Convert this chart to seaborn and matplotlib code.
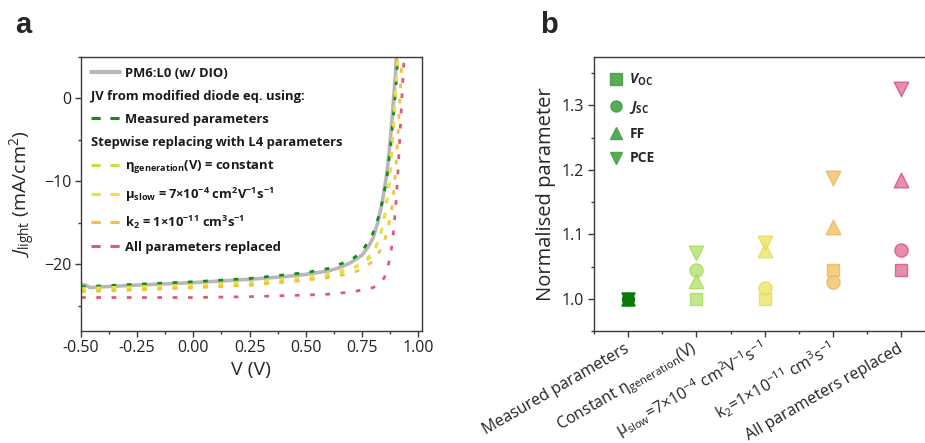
import numpy as np
import pandas as pd
import matplotlib
matplotlib.use("Agg")
import matplotlib.pyplot as plt
import seaborn as sns
from matplotlib.lines import Line2D
from matplotlib.ticker import MultipleLocator, FixedLocator

# ---------------- Panel a data (J-V curves) ----------------
v_pm6 = [-0.50, -0.48, -0.46, -0.40, -0.25, 0.00, 0.25, 0.40, 0.50, 0.60, 0.65, 0.70,
         0.75, 0.78, 0.80, 0.82, 0.84, 0.86, 0.87, 0.88, 0.89, 0.90, 0.905]
j_pm6 = [-22.4, -22.5, -22.8, -22.7, -22.5, -22.2, -21.8, -21.5, -21.2, -20.8, -20.4, -19.8,
         -18.9, -17.8, -16.8, -15.0, -12.6, -9.2, -6.8, -3.8, -0.4, 3.2, 5.5]

v_meas = [-0.50, -0.25, 0.00, 0.25, 0.50, 0.60, 0.70, 0.75, 0.80, 0.83, 0.86, 0.88, 0.90, 0.91]
j_meas = [-22.7, -22.4, -22.1, -21.7, -21.0, -20.5, -19.5, -18.5, -16.2, -13.8, -9.8, -5.2, 1.0, 5.0]

v_eta = [-0.50, -0.25, 0.00, 0.25, 0.50, 0.60, 0.70, 0.75, 0.80, 0.83, 0.85, 0.87, 0.88, 0.89, 0.90, 0.91]
j_eta = [-23.3, -23.1, -22.8, -22.5, -21.9, -21.4, -20.6, -20.0, -18.8, -16.6, -14.2, -10.2, -7.4, -3.8, 0.6, 5.0]

v_mu = [-0.50, -0.25, 0.00, 0.25, 0.50, 0.60, 0.70, 0.75, 0.80, 0.83, 0.85, 0.87, 0.88, 0.89, 0.90, 0.91]
j_mu = [-22.9, -22.7, -22.5, -22.2, -21.6, -21.2, -20.5, -19.9, -18.5, -16.8, -14.6, -10.8, -7.8, -4.0, 0.8, 5.0]

v_k2 = [-0.50, -0.25, 0.00, 0.25, 0.50, 0.60, 0.70, 0.75, 0.80, 0.83, 0.86, 0.88, 0.89, 0.90, 0.91, 0.92, 0.93]
j_k2 = [-23.2, -23.0, -22.8, -22.5, -21.9, -21.6, -21.1, -20.6, -19.6, -18.4, -16.4, -13.8, -11.8, -8.8, -4.6, 0.6, 5.5]

v_all = [-0.50, -0.25, 0.00, 0.25, 0.50, 0.60, 0.70, 0.75, 0.80, 0.83, 0.85, 0.87, 0.88, 0.89, 0.90, 0.91, 0.92, 0.93, 0.94]
j_all = [-24.0, -24.0, -24.0, -23.9, -23.7, -23.6, -23.35, -23.1, -22.8, -22.3, -21.6, -19.8, -18.4, -16.2, -13.2, -9.0, -4.0, 1.2, 6.0]

legend_a_labels = [
    "PM6:L0 (w/ DIO)",
    "JV from modified diode eq. using:",
    "Measured parameters",
    "Stepwise replacing with L4 parameters",
    r"η$_{generation}$(V) = constant",
    r"μ$_{slow}$ = 7×10$^{-4}$ cm$^{2}$V$^{-1}$s$^{-1}$",
    r"k$_{2}$ = 1×10$^{-11}$ cm$^{3}$s$^{-1}$",
    "All parameters replaced",
]

# ---------------- Panel b data (normalised parameters) ----------------
steps = ["Measured parameters",
         r"Constant η$_{generation}$(V)",
         r"μ$_{slow}$=7×10$^{-4}$ cm$^{2}$V$^{-1}$s$^{-1}$",
         r"k$_{2}$=1×10$^{-11}$ cm$^{3}$s$^{-1}$",
         "All parameters replaced"]
voc = [1.000, 1.000, 1.000, 1.045, 1.045]
jsc = [1.000, 1.044, 1.016, 1.026, 1.075]
ff = [1.000, 1.028, 1.076, 1.112, 1.184]
pce = [1.000, 1.071, 1.087, 1.188, 1.326]
metric_labels = [r"$\mathbfit{V}_{OC}$", r"$\mathbfit{J}_{SC}$", "FF", "PCE"]

# ---------------- styling ----------------
sns.set_style("ticks")
plt.rcParams.update({
    "font.family": ["Open Sans", "DejaVu Sans"],
    "mathtext.fontset": "custom",
    "mathtext.rm": "Open Sans",
    "mathtext.it": "Open Sans:italic",
    "mathtext.bf": "Open Sans:bold",
    "mathtext.bfit": "Open Sans:italic:bold",
    "mathtext.default": "regular",
    "axes.edgecolor": "#3a3a3a",
    "axes.linewidth": 1.0,
    "xtick.color": "#3a3a3a",
    "ytick.color": "#3a3a3a",
    "xtick.labelcolor": "#222222",
    "ytick.labelcolor": "#222222",
})

c_gray = "#b8b8b8"
c_green = "#168a16"
c_lgreen = "#bde448"
c_yellow = "#f2df3c"
c_orange = "#f6c03a"
c_red = "#dc5c70"
dash = (0, (1.7, 3.8))

fig = plt.figure(figsize=(9.25, 4.43), dpi=100)
axa = fig.add_axes([81 / 925, 1 - 330.7 / 443, 340.7 / 925, 273.7 / 443])
axb = fig.add_axes([594 / 925, 1 - 331 / 443, 341.5 / 925, 274 / 443])

# ---- panel a ----
sns.lineplot(x=v_pm6, y=j_pm6, ax=axa, color=c_gray, lw=2.6, estimator=None, sort=False)
series = [(v_meas, j_meas, c_green), (v_eta, j_eta, c_lgreen), (v_mu, j_mu, c_yellow),
          (v_k2, j_k2, c_orange), (v_all, j_all, c_red)]
for vx, jy, col in series:
    sns.lineplot(x=vx, y=jy, ax=axa, color=col, lw=2.0, linestyle=dash,
                 estimator=None, sort=False)

axa.set_xlim(-0.5, 1.016)
axa.set_ylim(-28, 5)
axa.xaxis.set_major_locator(MultipleLocator(0.25))
axa.xaxis.set_minor_locator(MultipleLocator(0.125))
axa.yaxis.set_major_locator(MultipleLocator(10))
axa.yaxis.set_minor_locator(MultipleLocator(5))
axa.xaxis.set_major_formatter(matplotlib.ticker.FormatStrFormatter("%.2f"))
axa.tick_params(which="major", direction="out", length=4, width=1, labelsize=11.5, pad=3)
axa.tick_params(which="minor", direction="out", length=2.5, width=1)
axa.set_xlabel("V (V)", fontsize=14, labelpad=3)
axa.set_ylabel(r"$\mathit{J}_{light}$ (mA/cm$^{2}$)", fontsize=14, labelpad=4)

dash_leg = (0, (3.0, 3.2))
blank = Line2D([], [], color="none")
handles_a = [Line2D([], [], color=c_gray, lw=3),
             blank,
             Line2D([], [], color=c_green, lw=2.2, linestyle=dash_leg),
             blank,
             Line2D([], [], color=c_lgreen, lw=2.2, linestyle=dash_leg),
             Line2D([], [], color=c_yellow, lw=2.2, linestyle=dash_leg),
             Line2D([], [], color=c_orange, lw=2.2, linestyle=dash_leg),
             Line2D([], [], color=c_red, lw=2.2, linestyle=dash_leg)]
leg_fs = 9.4
hl, htp = 2.2, 0.45
lega = axa.legend(handles_a, legend_a_labels, loc="upper left", frameon=False,
                  bbox_to_anchor=(0.0, 1.0), borderaxespad=0.3, borderpad=0.45,
                  handlelength=hl, handletextpad=htp, labelspacing=0.76,
                  prop={"weight": "bold", "size": leg_fs})
shift_px = (hl + htp) * leg_fs * fig.dpi / 72
for i in (1, 3):
    lega.get_texts()[i].set_x(-shift_px)
for t in lega.get_texts():
    t.set_color("#1a1a1a")

# ---- panel b ----
cols_b = ["#0b7a0b", "#b3e36e", "#ece56a", "#f0c266", "#e07298"]
edge_b = ["#0b7a0b", "#a6db5c", "#e6dc55", "#eab656", "#d4507f"]
metrics = ["Voc", "Jsc", "FF", "PCE"]
markers = {"Voc": "s", "Jsc": "o", "FF": "^", "PCE": "v"}
df = pd.DataFrame({
    "step": np.tile(steps, 4),
    "metric": np.repeat(metrics, len(steps)),
    "value": voc + jsc + ff + pce,
})
sizes_b = {"Voc": 70, "Jsc": 90, "FF": 110, "PCE": 110}
for i, st in enumerate(steps):
    sub = df[df["step"] == st]
    for m in metrics:
        s2 = sub[sub["metric"] == m]
        sns.scatterplot(data=s2, x="step", y="value", ax=axb, marker=markers[m],
                        s=sizes_b[m] if i else sizes_b[m] * 0.8, color=cols_b[i],
                        edgecolor=edge_b[i], linewidth=1.0,
                        alpha=1.0 if i == 0 else 0.8, legend=False, zorder=3)

axb.set_xlim(-0.5, 4.5)
axb.set_ylim(0.95, 1.375)
axb.set_xticks(range(len(steps)))
axb.set_xticklabels(steps, rotation=30, ha="right", va="center", rotation_mode="anchor")
axb.xaxis.set_minor_locator(FixedLocator(np.arange(-0.5, 5, 1.0)))
axb.yaxis.set_major_locator(MultipleLocator(0.1))
axb.yaxis.set_minor_locator(MultipleLocator(0.05))
axb.yaxis.set_major_formatter(matplotlib.ticker.FormatStrFormatter("%.1f"))
axb.tick_params(which="major", direction="out", length=4, width=1, labelsize=11.5, pad=3)
axb.tick_params(axis="x", which="major", pad=8)
axb.tick_params(which="minor", direction="out", length=2.5, width=1)
axb.set_xlabel("")
axb.set_ylabel("Normalised parameter", fontsize=14.5, labelpad=4)

leg_green = "#3c9f3c"
handles_b = [Line2D([], [], marker=markers[m], color=leg_green, ls="none", markersize=8,
                    alpha=0.85) for m in metrics]
legb = axb.legend(handles_b, metric_labels, loc="upper left", frameon=False,
                  bbox_to_anchor=(0.0, 1.0), borderaxespad=0.3, borderpad=0.75,
                  handlelength=1.0, handletextpad=0.5, labelspacing=0.78,
                  prop={"weight": "bold", "size": 10})

fig.text(15 / 925, 1 - 33 / 443, "a", fontsize=21, fontweight="bold",
         family="Liberation Sans", va="baseline")
fig.text(540 / 925, 1 - 33 / 443, "b", fontsize=21, fontweight="bold",
         family="Liberation Sans", va="baseline")

fig.savefig("out.png", dpi=100)
